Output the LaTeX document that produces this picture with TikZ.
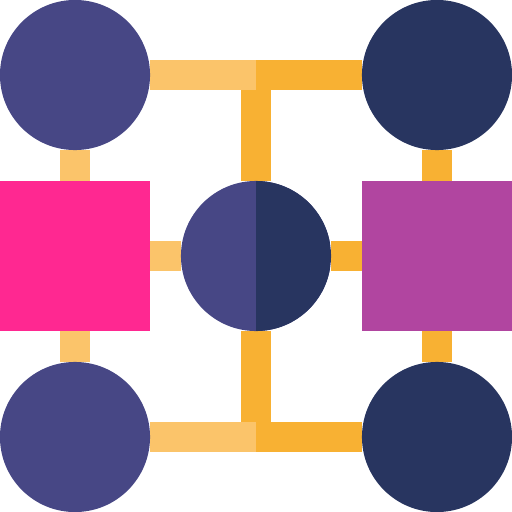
\documentclass[tikz,border=0pt]{standalone}
\usetikzlibrary{backgrounds}
\definecolor{hubleft}{HTML}{474785}
\definecolor{hubright}{HTML}{283560}
\definecolor{barlight}{HTML}{FBC46A}
\definecolor{bardark}{HTML}{F8B133}
\definecolor{pinkbox}{HTML}{FF2891}
\definecolor{violetbox}{HTML}{B145A0}
\tikzset{
    dot/.style={circle, minimum size=1.5cm, inner sep=0pt, outer sep=0pt, fill=#1},
    box/.style={rectangle, minimum size=1.5cm, inner sep=0pt, outer sep=0pt, fill=#1},
    bar/.style={line width=0.3cm, draw=#1},
}
\begin{document}
\begin{tikzpicture}[x=0.01cm, y=-0.01cm]
    \useasboundingbox (0,0) rectangle (512,512);
    \node (TopLeft) [dot=hubleft] at (75,75) {};
    \node (TopRight) [dot=hubright] at (437,75) {};
    \node (BottomLeft) [dot=hubleft] at (75,437) {};
    \node (BottomRight) [dot=hubright] at (437,437) {};
    \node (LeftBox) [box=pinkbox] at (75,256) {};
    \node (RightBox) [box=violetbox] at (437,256) {};
    \node (Hub) [dot=hubleft, path picture={
        \fill[hubright] (path picture bounding box.north) rectangle (path picture bounding box.south east);}] at (256,256) {};
    \coordinate (TopMid) at (256,75);
    \coordinate (BottomMid) at (256,437);

    \begin{scope}[on background layer]
        \draw[bar=bardark] (TopMid) -- (Hub.north);
        \draw[bar=bardark] (Hub.south) -- (BottomMid);
        \draw[bar=barlight] (TopLeft) -- (TopMid);
        \draw[bar=bardark] (TopMid) -- (TopRight);
        \draw[bar=barlight] (BottomLeft) -- (BottomMid);
        \draw[bar=bardark] (BottomMid) -- (BottomRight);
        \draw[bar=barlight] (TopLeft) -- (LeftBox);
        \draw[bar=barlight] (LeftBox) -- (BottomLeft);
        \draw[bar=barlight] (LeftBox) -- (Hub);
        \draw[bar=bardark] (Hub) -- (RightBox);
        \draw[bar=bardark] (TopRight) -- (RightBox);
        \draw[bar=bardark] (RightBox) -- (BottomRight);
    \end{scope}
\end{tikzpicture}
\end{document}
